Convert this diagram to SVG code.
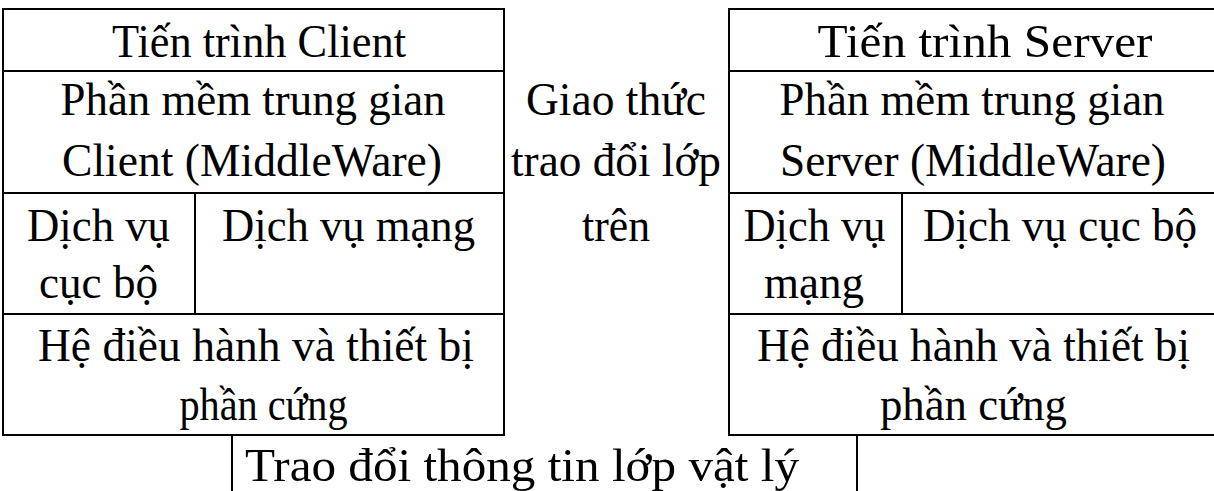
<svg xmlns="http://www.w3.org/2000/svg" width="1214" height="491" viewBox="0 0 1214 491">
  <style>
    .cell { fill: none; stroke: #000; stroke-width: 2; }
    .rule { stroke: #000; stroke-width: 2; }
    text { font-family: "Liberation Serif", "Times New Roman", serif; font-size: 47px; fill: #000; text-anchor: middle; }
  </style>
  <rect width="1214" height="491" fill="#fff"/>

  <!-- Client stack -->
  <g id="client">
    <rect class="cell" x="3" y="9" width="501" height="426"/>
    <line class="rule" x1="3" y1="71" x2="504" y2="71"/>
    <line class="rule" x1="3" y1="193" x2="504" y2="193"/>
    <line class="rule" x1="3" y1="314" x2="504" y2="314"/>
    <line class="rule" x1="195" y1="193" x2="195" y2="314"/>
    <text x="259" y="57" textLength="294" lengthAdjust="spacingAndGlyphs">Tiến trình Client</text>
    <text x="253" y="115" textLength="385" lengthAdjust="spacingAndGlyphs">Phần mềm trung gian</text>
    <text x="252" y="176" textLength="380" lengthAdjust="spacingAndGlyphs">Client (MiddleWare)</text>
    <text x="98.5" y="241" textLength="143" lengthAdjust="spacingAndGlyphs">Dịch vụ</text>
    <text x="98.5" y="298" textLength="119" lengthAdjust="spacingAndGlyphs">cục bộ</text>
    <text x="348.5" y="241" textLength="253" lengthAdjust="spacingAndGlyphs">Dịch vụ mạng</text>
    <text x="256" y="361" textLength="436" lengthAdjust="spacingAndGlyphs">Hệ điều hành và thiết bị</text>
    <text x="263.5" y="420" textLength="168" lengthAdjust="spacingAndGlyphs">phần cứng</text>
  </g>

  <!-- Upper-layer protocol between the stacks -->
  <g id="protocol">
    <text x="616" y="115" textLength="180" lengthAdjust="spacingAndGlyphs">Giao thức</text>
    <text x="616" y="176" textLength="210" lengthAdjust="spacingAndGlyphs">trao đổi lớp</text>
    <text x="616" y="241" textLength="68" lengthAdjust="spacingAndGlyphs">trên</text>
  </g>

  <!-- Server stack (runs past the right edge) -->
  <g id="server">
    <rect class="cell" x="729" y="9" width="520" height="426"/>
    <line class="rule" x1="729" y1="71" x2="1249" y2="71"/>
    <line class="rule" x1="729" y1="193" x2="1249" y2="193"/>
    <line class="rule" x1="729" y1="314" x2="1249" y2="314"/>
    <line class="rule" x1="902" y1="193" x2="902" y2="314"/>
    <text x="985" y="57" textLength="335" lengthAdjust="spacingAndGlyphs">Tiến trình Server</text>
    <text x="972" y="115" textLength="385" lengthAdjust="spacingAndGlyphs">Phần mềm trung gian</text>
    <text x="973" y="176" textLength="386" lengthAdjust="spacingAndGlyphs">Server (MiddleWare)</text>
    <text x="814.5" y="241" textLength="142" lengthAdjust="spacingAndGlyphs">Dịch vụ</text>
    <text x="814" y="298" textLength="100" lengthAdjust="spacingAndGlyphs">mạng</text>
    <text x="1060" y="241" textLength="274" lengthAdjust="spacingAndGlyphs">Dịch vụ cục bộ</text>
    <text x="973.5" y="361" textLength="433" lengthAdjust="spacingAndGlyphs">Hệ điều hành và thiết bị</text>
    <text x="973.5" y="420" textLength="187" lengthAdjust="spacingAndGlyphs">phần cứng</text>
  </g>

  <!-- Physical layer exchange -->
  <g id="physical">
    <line class="rule" x1="232" y1="435" x2="232" y2="491"/>
    <line class="rule" x1="857" y1="435" x2="857" y2="491"/>
    <text x="522" y="481" textLength="554" lengthAdjust="spacingAndGlyphs">Trao đổi thông tin lớp vật lý</text>
  </g>

  <g id="connectors"></g>
</svg>
